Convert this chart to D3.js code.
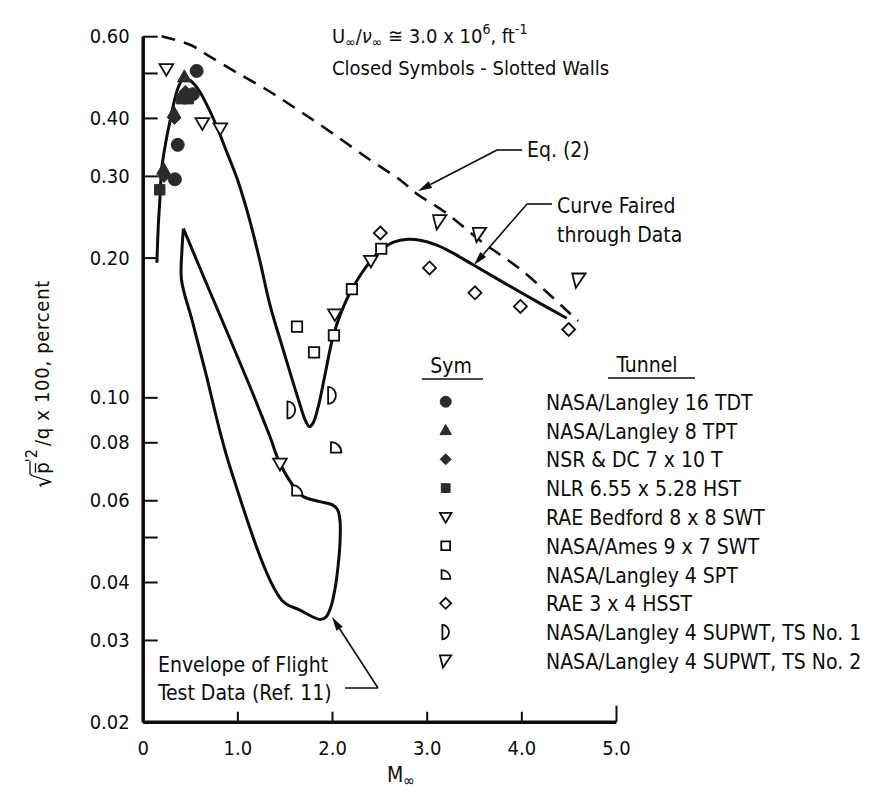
<!DOCTYPE html>
<html><head><meta charset="utf-8">
<script src="https://cdn.jsdelivr.net/npm/d3@7"></script>
<style>
body{margin:0;background:#fff;}
svg{font-family:"DejaVu Sans Condensed","Liberation Sans Narrow","DejaVu Sans",sans-serif;font-stretch:condensed;}
</style></head><body>
<svg id="c" width="895" height="794"></svg>
<script>
// ---------- data ----------
const yTickValues=[0.6,0.5,0.4,0.3,0.2,0.1,0.08,0.06,0.05,0.04,0.03,0.02];
const yTickLabels=["0.60","","0.40","0.30","0.20","0.10","0.08","0.06","","0.04","0.03","0.02"];
const xTickValues=[0,1,2,3,4,5];
const xTickLabels=["0","1.0","2.0","3.0","4.0","5.0"];

const tdt16=[[0.57,0.505],[0.53,0.45],[0.37,0.35],[0.34,0.295]];
const tpt8=[[0.44,0.49],[0.33,0.41],[0.22,0.31]];
const nsr7x10=[[0.335,0.40],[0.225,0.30],[0.45,0.455]];
const nlr=[[0.18,0.28],[0.41,0.44],[0.48,0.44]];
const raeBedford=[[0.25,0.51],[0.63,0.39],[0.82,0.38],[1.45,0.072],[2.03,0.151],[2.41,0.197]];
const amesSWT=[[1.63,0.142],[1.81,0.125],[2.02,0.136],[2.21,0.171],[2.52,0.209]];
const spt4=[[1.63,0.063],[2.04,0.078]];
const rae3x4=[[2.51,0.226],[3.03,0.19],[3.51,0.168],[3.99,0.157],[4.50,0.14]];
const supwt1=[[1.57,0.094],[2.0,0.101]];
const supwt2=[[3.14,0.239],[3.56,0.2245],[4.61,0.179]];

const eq2Curve=[[0.2,0.60],[0.5,0.575],[0.71,0.542],[1.0,0.50],[1.31,0.46],[1.65,0.415],[2.01,0.37],[2.4,0.325],[2.72,0.294],[2.89,0.275],[3.2,0.25],[3.6,0.215],[4.0,0.188],[4.6,0.146]];
const fairedCurve=[[0.15,0.195],[0.165,0.235],[0.183,0.27],[0.2,0.31],[0.25,0.36],[0.29,0.395],[0.34,0.44],[0.38,0.468],[0.44,0.488],[0.5,0.482],[0.59,0.46],[0.67,0.43],[0.76,0.393],[0.9,0.333],[1.0,0.295],[1.13,0.241],[1.24,0.196],[1.345,0.158],[1.485,0.1265],[1.644,0.099],[1.72,0.089],[1.76,0.0865],[1.8,0.088],[1.86,0.0965],[1.93,0.113],[2.01,0.135],[2.1,0.153],[2.21,0.171],[2.41,0.197],[2.52,0.208],[2.65,0.216],[2.8,0.219],[2.93,0.218],[3.1,0.213],[3.25,0.206],[3.49,0.193],[4.0,0.168],[4.48,0.148]];
const flightEnvelope=[[0.43,0.231],[0.658,0.179],[1.134,0.1054],[1.345,0.0822],[1.45,0.072],[1.627,0.063],[1.697,0.0611],[1.873,0.0596],[2.0,0.0587],[2.06,0.0572],[2.085,0.054],[2.085,0.049],[2.065,0.0435],[2.03,0.0385],[1.985,0.0352],[1.935,0.0336],[1.875,0.0332],[1.662,0.0348],[1.468,0.0366],[0.922,0.0708],[0.658,0.1145],[0.52,0.147],[0.41,0.179],[0.415,0.208],[0.43,0.231]];

const legendNames=["NASA/Langley 16 TDT","NASA/Langley 8 TPT","NSR & DC 7 x 10 T","NLR 6.55 x 5.28 HST","RAE Bedford 8 x 8 SWT","NASA/Ames 9 x 7 SWT","NASA/Langley 4 SPT","RAE 3 x 4 HSST","NASA/Langley 4 SUPWT, TS No. 1","NASA/Langley 4 SUPWT, TS No. 2"];
const seriesData=[tdt16,tpt8,nsr7x10,nlr,raeBedford,amesSWT,spt4,rae3x4,supwt1,supwt2];
const seriesShapes=["circle","triangle","diamond","square","tridown","box","quarter","odiamond","dee","slant"];

// ---------- scales ----------
const svg=d3.select("#c");
const x=d3.scaleLinear().domain([0,5]).range([142.7,616]);
const y=d3.scaleLog().domain([0.02,0.6]).range([721.7,36.2]);
const ink="#0d0d0d";

// ---------- axes ----------
const ya=svg.append("g").attr("transform",`translate(${x(0)},0)`)
  .call(d3.axisLeft(y).tickValues(yTickValues).tickSize(-15).tickSizeOuter(0).tickPadding(13)
    .tickFormat((d,i)=>yTickLabels[i]));
ya.select(".domain").attr("stroke",ink).attr("stroke-width",3.5);
ya.selectAll(".tick line").attr("stroke",ink).attr("stroke-width",2);
ya.selectAll(".tick text").attr("font-size",20).attr("fill",ink);

const xa=svg.append("g").attr("transform",`translate(0,${y(0.02)})`)
  .call(d3.axisBottom(x).tickValues(xTickValues).tickSize(-10).tickSizeOuter(0).tickPadding(19)
    .tickFormat((d,i)=>xTickLabels[i]));
xa.select(".domain").attr("stroke",ink).attr("stroke-width",3.5);
xa.selectAll(".tick line").attr("stroke",ink).attr("stroke-width",2).attr("y2",(d)=>d===5?-16:-10);
xa.selectAll(".tick text").attr("font-size",20).attr("fill",ink);
ya.attr("font-family",null); xa.attr("font-family",null);

// ---------- curves ----------
const line=d3.line().x(d=>x(d[0])).y(d=>y(d[1])).curve(d3.curveCatmullRom.alpha(0.5));
svg.append("path").attr("d",line(eq2Curve)).attr("fill","none").attr("stroke",ink)
  .attr("stroke-width",2.6).attr("stroke-dasharray","14,9");
svg.append("path").attr("d",line(fairedCurve)).attr("fill","none").attr("stroke",ink).attr("stroke-width",3);
svg.append("path").attr("d",line(flightEnvelope)).attr("fill","none").attr("stroke",ink).attr("stroke-width",3).attr("stroke-linejoin","round");

// ---------- symbols ----------
function shapePath(t,s){
  switch(t){
    case "circle": return `M${-s},0A${s},${s} 0 1,0 ${s},0A${s},${s} 0 1,0 ${-s},0Z`;
    case "triangle": return `M0,${-s*1.1}L${s*1.05},${s*0.75}L${-s*1.05},${s*0.75}Z`;
    case "diamond": case "odiamond": return `M0,${-s}L${s},0L0,${s}L${-s},0Z`;
    case "square": case "box": return `M${-s*0.8},${-s*0.8}H${s*0.8}V${s*0.8}H${-s*0.8}Z`;
    case "tridown": return `M${-s*1.05},${-s*0.75}L${s*1.05},${-s*0.75}L0,${s*1.05}Z`;
    case "quarter": return `M${-s*0.75},${s*0.8}L${-s*0.75},${-s*0.8}A${s*1.5},${s*1.6} 0 0,1 ${s*0.85},${s*0.8}Z`;
    case "dee": return `M${-s*0.6},${-s*1.3}A${s*1.2},${s*1.3} 0 0,1 ${-s*0.6},${s*1.3}Z`;
    case "slant": return `M${-s*1.05},${-s*1.0}L${s*1.0},${-s*1.0}L${-s*0.5},${s*1.2}Z`;
  }
}
const filledTypes=new Set(["circle","triangle","diamond","square"]);
function drawSym(g,t,px,py,s){
  const filled=filledTypes.has(t);
  g.append("path").attr("d",shapePath(t,s)).attr("transform",`translate(${px},${py})`)
   .attr("fill",filled?"#2b2b2b":"#fff").attr("stroke",filled?"#2b2b2b":ink)
   .attr("stroke-width",filled?1:1.8).attr("stroke-linejoin","miter");
}
const symG=svg.append("g");
seriesData.forEach((arr,i)=>{
  arr.forEach(d=>drawSym(symG,seriesShapes[i],x(d[0]),y(d[1]),6.5));
});

// ---------- annotations ----------
function arrow(fx,fy,tx,ty){
  const a=Math.atan2(ty-fy,tx-fx),L=14,W=3.8;
  const bx=tx-L*Math.cos(a),by=ty-L*Math.sin(a);
  svg.append("line").attr("x1",fx).attr("y1",fy).attr("x2",bx).attr("y2",by).attr("stroke",ink).attr("stroke-width",1.6);
  svg.append("path").attr("d",`M${tx},${ty}L${bx+W*Math.sin(a)},${by-W*Math.cos(a)}L${bx-W*Math.sin(a)},${by+W*Math.cos(a)}Z`).attr("fill",ink);
}
function hline(x1,x2,yy){svg.append("line").attr("x1",x1).attr("x2",x2).attr("y1",yy).attr("y2",yy).attr("stroke",ink).attr("stroke-width",1.6);}
function txt(s,px,py,fs,anchor){return svg.append("text").attr("x",px).attr("y",py).attr("font-size",fs).attr("fill",ink).attr("text-anchor",anchor||"start").text(s);}

// Eq. (2)
hline(497,522,150); arrow(497,150,418,191);
txt("Eq. (2)",527,157,21);
// Curve faired
hline(527,552,204); arrow(527,204,474,265);
txt("Curve Faired",557,213,21);
txt("through Data",557,242,21);
// Envelope
hline(345,378,688); arrow(378,688,332,617);
txt("Envelope of Flight",158,672,21);
txt("Test Data (Ref. 11)",158,700,21);

// Top text
const tt=svg.append("text").attr("x",332).attr("y",43).attr("font-size",20).attr("fill",ink);
tt.append("tspan").text("U");
tt.append("tspan").attr("font-size",14).attr("dy",4).text("∞");
tt.append("tspan").attr("dy",-4).text("/");
tt.append("tspan").attr("font-style","italic").text("ν");
tt.append("tspan").attr("font-size",14).attr("dy",4).text("∞");
tt.append("tspan").attr("dy",-4).text(" ≅ 3.0 x 10");
tt.append("tspan").attr("font-size",14).attr("dy",-9).text("6");
tt.append("tspan").attr("dy",9).text(", ft");
tt.append("tspan").attr("font-size",14).attr("dy",-9).text("-1");
txt("Closed Symbols - Slotted Walls",332,75,20);

// X label
const xl=svg.append("text").attr("x",387).attr("y",782).attr("font-size",21).attr("fill",ink);
xl.append("tspan").text("M");
xl.append("tspan").attr("font-size",16).attr("dy",4).text("∞");

// Y label (rotated)
const gl=svg.append("g").attr("transform","translate(49,488) rotate(-90)").attr("fill",ink);
const r1=gl.append("text").attr("x",0).attr("y",2).attr("font-size",25).text("√");
let cx=r1.node().getComputedTextLength();
const r2=gl.append("text").attr("x",cx).attr("y",0).attr("font-size",20).text("p");
const wp=r2.node().getComputedTextLength();
gl.append("line").attr("x1",cx+1).attr("x2",cx+wp-1).attr("y1",-13.5).attr("y2",-13.5).attr("stroke",ink).attr("stroke-width",1.3);
gl.append("line").attr("x1",cx-1).attr("x2",cx+wp+1).attr("y1",-19).attr("y2",-19).attr("stroke",ink).attr("stroke-width",1.3);
cx+=wp;
const r3=gl.append("text").attr("x",cx).attr("y",-12).attr("font-size",16).text("'2");
cx+=r3.node().getComputedTextLength()+3;
gl.append("text").attr("x",cx).attr("y",0).attr("font-size",20).attr("letter-spacing",0.7).text(" /q x 100,  percent");

// ---------- legend ----------
txt("Sym",451,373,21,"middle");
svg.append("line").attr("x1",422).attr("x2",483).attr("y1",379).attr("y2",379).attr("stroke",ink).attr("stroke-width",1.6);
txt("Tunnel",647,372,21,"middle");
svg.append("line").attr("x1",608).attr("x2",695).attr("y1",378).attr("y2",378).attr("stroke",ink).attr("stroke-width",1.6);
const lg=svg.append("g");
legendNames.forEach((n,i)=>{
  const ry=401.7+i*28.8;
  drawSym(lg,seriesShapes[i],445.7,ry,5.5);
  txt(n,546,ry+8,21);
});
</script>
</body></html>
